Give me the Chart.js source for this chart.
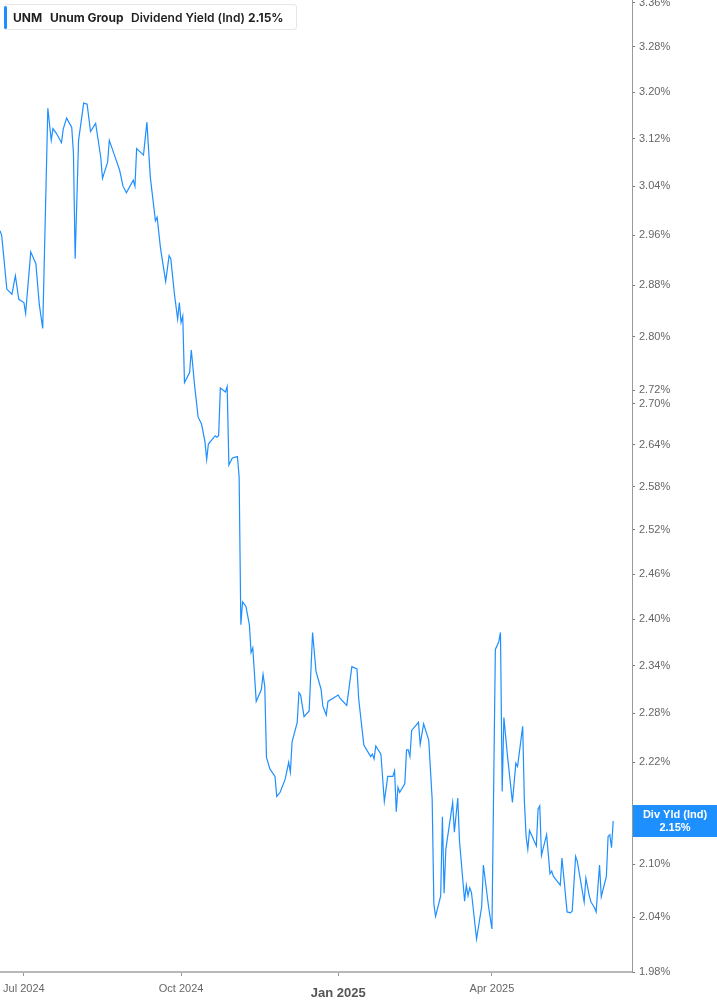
<!DOCTYPE html>
<html>
<head>
<meta charset="utf-8">
<script src="https://cdn.jsdelivr.net/npm/chart.js@4.4.1/dist/chart.umd.min.js"></script>
<style>
  html, body { margin: 0; padding: 0; background: #fff; }
  #wrap { position: relative; width: 717px; height: 1005px; }
  #legend {
    position: absolute; left: 4px; top: 4px; width: 293px; height: 26px;
    box-sizing: border-box; border: 1px solid #e6e6e6; border-radius: 3px; background: #fff;
    font-family: Inter, "Noto Sans", sans-serif; font-size: 12px; color: #1f1f1f;
  }
  #legend .bar { position: absolute; left: -1px; top: 1px; width: 3px; height: 23px; background: #1e8fff; border-radius: 2px; }
  #legend span { position: absolute; top: 5px; white-space: nowrap; }
</style>
</head>
<body>
<div id="wrap">
  <canvas id="myChart" width="717" height="1005"></canvas>
  <div id="legend">
    <div class="bar"></div>
    <span style="left:8px;font-weight:700">UNM</span>
    <span style="left:45px;font-weight:700">Unum Group</span>
    <span style="left:126px;font-weight:600">Dividend Yield (Ind)</span>
    <span style="left:243px;font-weight:700">2.15%</span>
  </div>
</div>
<script>
const dates = [
  "2024-06-17", "2024-06-18", "2024-06-21", "2024-06-24", "2024-06-26", "2024-06-28",
  "2024-07-01", "2024-07-02", "2024-07-05", "2024-07-08", "2024-07-10", "2024-07-12",
  "2024-07-15", "2024-07-17", "2024-07-18", "2024-07-20", "2024-07-23", "2024-07-24",
  "2024-07-26", "2024-07-29", "2024-07-30", "2024-07-31", "2024-08-02", "2024-08-05",
  "2024-08-07", "2024-08-09", "2024-08-12", "2024-08-15", "2024-08-16", "2024-08-19",
  "2024-08-20", "2024-08-23", "2024-08-26", "2024-08-28", "2024-08-30", "2024-09-03",
  "2024-09-04", "2024-09-05", "2024-09-09", "2024-09-11", "2024-09-13", "2024-09-16",
  "2024-09-17", "2024-09-19", "2024-09-22", "2024-09-24", "2024-09-25", "2024-09-27",
  "2024-09-29", "2024-09-30", "2024-10-01", "2024-10-02", "2024-10-03", "2024-10-06",
  "2024-10-07", "2024-10-09", "2024-10-11", "2024-10-13", "2024-10-15", "2024-10-16",
  "2024-10-17", "2024-10-21", "2024-10-22", "2024-10-23", "2024-10-24", "2024-10-27",
  "2024-10-28", "2024-10-29", "2024-10-31", "2024-11-03", "2024-11-04", "2024-11-05",
  "2024-11-06", "2024-11-08", "2024-11-10", "2024-11-11", "2024-11-12", "2024-11-14",
  "2024-11-17", "2024-11-18", "2024-11-19", "2024-11-20", "2024-11-22", "2024-11-25",
  "2024-11-26", "2024-11-28", "2024-12-01", "2024-12-03", "2024-12-04", "2024-12-05",
  "2024-12-08", "2024-12-09", "2024-12-10", "2024-12-12", "2024-12-15", "2024-12-17",
  "2024-12-19", "2024-12-22", "2024-12-23", "2024-12-25", "2024-12-26", "2025-01-01",
  "2025-01-02", "2025-01-06", "2025-01-09", "2025-01-12", "2025-01-13", "2025-01-16",
  "2025-01-20", "2025-01-21", "2025-01-22", "2025-01-23", "2025-01-26", "2025-01-28",
  "2025-01-30", "2025-02-02", "2025-02-03", "2025-02-04", "2025-02-05", "2025-02-06",
  "2025-02-09", "2025-02-10", "2025-02-11", "2025-02-12", "2025-02-13", "2025-02-17",
  "2025-02-18", "2025-02-20", "2025-02-23", "2025-02-25", "2025-02-26", "2025-02-27",
  "2025-03-02", "2025-03-03", "2025-03-04", "2025-03-05", "2025-03-09", "2025-03-10",
  "2025-03-12", "2025-03-13", "2025-03-16", "2025-03-17", "2025-03-18", "2025-03-19",
  "2025-03-20", "2025-03-23", "2025-03-26", "2025-03-27", "2025-03-30", "2025-04-01",
  "2025-04-03", "2025-04-05", "2025-04-06", "2025-04-07", "2025-04-08", "2025-04-10",
  "2025-04-13", "2025-04-15", "2025-04-16", "2025-04-19", "2025-04-20", "2025-04-21",
  "2025-04-22", "2025-04-23", "2025-04-27", "2025-04-28", "2025-04-29", "2025-04-30",
  "2025-05-03", "2025-05-05", "2025-05-06", "2025-05-07", "2025-05-11", "2025-05-12",
  "2025-05-15", "2025-05-17", "2025-05-18", "2025-05-20", "2025-05-21", "2025-05-25",
  "2025-05-26", "2025-05-28", "2025-05-29", "2025-05-31", "2025-06-01", "2025-06-03",
  "2025-06-04", "2025-06-07", "2025-06-08", "2025-06-09", "2025-06-10", "2025-06-11"
];

// dividend yield (ind), percent
const yieldValues = [
  2.967, 2.959, 2.874, 2.866, 2.895, 2.858,
  2.853, 2.836, 2.933, 2.914, 2.850, 2.813,
  3.172, 3.117, 3.137, 3.129, 3.113, 3.136,
  3.155, 3.139, 3.095, 2.922, 3.117, 3.181,
  3.179, 3.132, 3.146, 3.088, 3.053, 3.080,
  3.117, 3.092, 3.067, 3.040, 3.029, 3.050,
  3.040, 3.103, 3.092, 3.148, 3.055, 2.983,
  2.989, 2.938, 2.886, 2.927, 2.922, 2.869,
  2.827, 2.853, 2.822, 2.832, 2.731, 2.746,
  2.780, 2.725, 2.680, 2.670, 2.644, 2.619,
  2.641, 2.653, 2.651, 2.653, 2.723, 2.717,
  2.725, 2.611, 2.621, 2.623, 2.594, 2.393,
  2.423, 2.417, 2.393, 2.357, 2.363, 2.295,
  2.310, 2.329, 2.314, 2.226, 2.212, 2.203,
  2.179, 2.184, 2.200, 2.220, 2.208, 2.245,
  2.269, 2.306, 2.303, 2.276, 2.283, 2.383,
  2.333, 2.310, 2.289, 2.278, 2.295, 2.303,
  2.299, 2.290, 2.339, 2.336, 2.298, 2.241,
  2.227, 2.230, 2.224, 2.240, 2.230, 2.173,
  2.203, 2.203, 2.210, 2.161, 2.190, 2.184,
  2.194, 2.235, 2.235, 2.227, 2.259, 2.269,
  2.242, 2.267, 2.247, 2.176, 2.055, 2.041,
  2.064, 2.155, 2.067, 2.117, 2.172, 2.137,
  2.177, 2.127, 2.058, 2.076, 2.064, 2.073,
  2.068, 2.016, 2.052, 2.099, 2.052, 2.027,
  2.361, 2.371, 2.383, 2.185, 2.275, 2.230,
  2.172, 2.219, 2.215, 2.264, 2.173, 2.132,
  2.117, 2.139, 2.121, 2.164, 2.168, 2.110,
  2.134, 2.089, 2.092, 2.086, 2.076, 2.107,
  2.046, 2.045, 2.047, 2.109, 2.103, 2.057,
  2.084, 2.064, 2.057, 2.051, 2.046, 2.099,
  2.063, 2.086, 2.132, 2.134, 2.119, 2.150
];

const yTicks = [3.36, 3.28, 3.20, 3.12, 3.04, 2.96, 2.88, 2.80, 2.72, 2.70, 2.64, 2.58,
  2.52, 2.46, 2.40, 2.34, 2.28, 2.22, 2.16, 2.10, 2.04, 1.98];
const xTickDates = ["2024-07-01", "2024-10-01", "2025-01-01", "2025-04-01"];
const xTickLabels = ["Jul 2024", "Oct 2024", "Jan 2025", "Apr 2025"];
const xRange = ["2024-06-17", "2025-06-22"];
const yRange = [1.98, 3.365];

const ts = (d) => Date.parse(d + "T00:00:00Z");
const lineColor = "#1e8fff";
const lastValue = yieldValues[yieldValues.length - 1];

const points = dates.map((d, i) => ({ x: ts(d), y: yieldValues[i] }));

const yieldBadge = {
  id: "yieldBadge",
  afterDraw(chart) {
    const { ctx, chartArea, scales } = chart;
    const y = scales.y.getPixelForValue(lastValue);
    const left = chartArea.right + 1;
    const right = chart.width;
    ctx.save();
    ctx.fillStyle = lineColor;
    ctx.fillRect(left, y - 16, right - left, 32);
    ctx.fillStyle = "#fff";
    ctx.font = "bold 11px 'Liberation Sans', Arial, sans-serif";
    ctx.textAlign = "center";
    ctx.textBaseline = "middle";
    const cx = (left + right) / 2;
    ctx.fillText("Div Yld (Ind)", cx, y - 6);
    ctx.fillText(lastValue.toFixed(2) + "%", cx, y + 7);
    ctx.restore();
  },
};

const ctx = document.getElementById("myChart").getContext("2d");
const myChart = new Chart(ctx, {
  type: "line",
  data: {
    datasets: [
      {
        label: "Dividend Yield (Ind)",
        data: points,
        borderColor: lineColor,
        borderWidth: 1.2,
        pointRadius: 0,
        tension: 0,
        fill: false,
      },
    ],
  },
  options: {
    responsive: false,
    animation: false,
    layout: { padding: 0 },
    plugins: {
      legend: { display: false },
      tooltip: { enabled: false },
    },
    scales: {
      x: {
        type: "linear",
        min: ts(xRange[0]),
        max: ts(xRange[1]),
        afterBuildTicks: (s) => {
          s.ticks = xTickDates.map((d) => ({ value: ts(d) }));
        },
        afterFit: (s) => {
          s.height = 33;
          s.paddingLeft = 0;
          s.paddingRight = 0;
        },
        grid: { drawOnChartArea: false, tickLength: 4, tickColor: "#999" },
        border: { color: "#b8b8b8", width: 2 },
        ticks: {
          autoSkip: false,
          maxRotation: 0,
          padding: 6,
          color: (c) => (c.index === 2 ? "#555" : "#666"),
          // Jan 2025 is bold, bigger and sits a bit lower
          font: (c) =>
            c.index === 2
              ? { family: "'Liberation Sans', Arial", size: 13, weight: "bold", lineHeight: 1.7 }
              : { family: "'Liberation Sans', Arial", size: 11, lineHeight: 1.2 },
          callback: (v, i) => xTickLabels[i],
        },
      },
      y: {
        type: "logarithmic",
        position: "right",
        min: yRange[0],
        max: yRange[1],
        afterBuildTicks: (s) => {
          s.ticks = yTicks.map((v) => ({ value: v }));
        },
        afterFit: (s) => {
          s.width = 85;
          s.paddingTop = 0;
          s.paddingBottom = 0;
        },
        grid: { drawOnChartArea: false, tickLength: 3, tickColor: "#777" },
        border: { color: "#999", width: 1 },
        ticks: {
          autoSkip: false,
          padding: 4,
          color: "#666",
          font: { family: "'Liberation Sans', Arial", size: 11 },
          callback: (v) => Number(v).toFixed(2) + "%",
        },
      },
    },
  },
  plugins: [yieldBadge],
});
</script>
</body>
</html>
